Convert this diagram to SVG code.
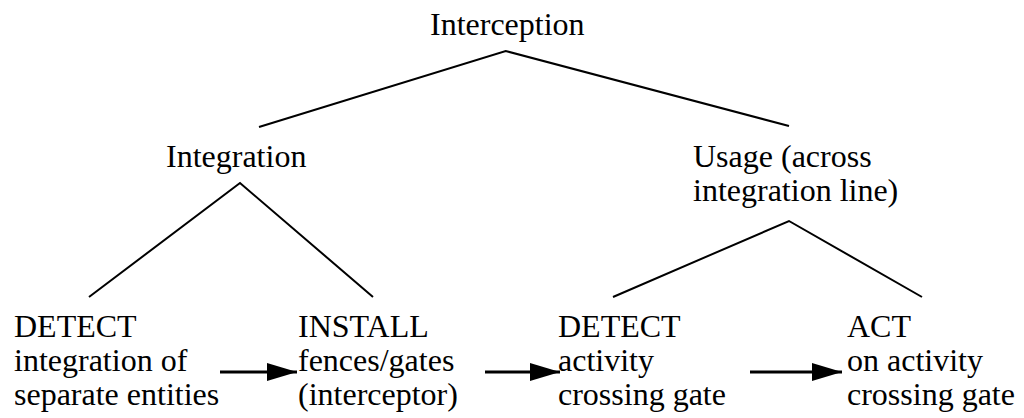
<svg xmlns="http://www.w3.org/2000/svg" width="1024" height="418" viewBox="0 0 1024 418">
  <style>
    .edge { stroke: #000; stroke-width: 2; fill: none; }
    .flow { stroke: #000; stroke-width: 3; fill: none; }
  </style>
  <defs>
    <marker id="head" markerUnits="userSpaceOnUse" markerWidth="30" markerHeight="20" refX="30" refY="9" orient="auto">
      <path d="M0,0 L30,9 L0,18 Z" fill="#000"/>
    </marker>
  </defs>
  <rect width="1024" height="418" fill="#fff"/>

  <!-- tree edges and flow arrows -->
  <g id="connectors">
    <polyline class="edge" points="259,127 505.7,51 789,126"/>
    <polyline class="edge" points="89,297 240,183 373,297"/>
    <polyline class="edge" points="613,297 789,221 922,297"/>
    <line class="flow" x1="220" y1="372" x2="297" y2="372" marker-end="url(#head)"/>
    <line class="flow" x1="485" y1="372" x2="560" y2="372" marker-end="url(#head)"/>
    <line class="flow" x1="750" y1="372" x2="842" y2="372" marker-end="url(#head)"/>
  </g>

  <g font-family="'Liberation Serif', 'Times New Roman', Times, 'DejaVu Serif', serif" font-size="32" fill="#000">
    <g id="interception">
      <text x="430" y="35">Interception</text>
    </g>
    <g id="integration">
      <text x="166" y="167">Integration</text>
    </g>
    <g id="usage">
      <text x="693" y="167">Usage (across</text>
      <text x="693" y="201">integration line)</text>
    </g>
    <g id="detect-integration">
      <text x="14" y="337">DETECT</text>
      <text x="14" y="371">integration of</text>
      <text x="14" y="405">separate entities</text>
    </g>
    <g id="install">
      <text x="298" y="337">INSTALL</text>
      <text x="298" y="371">fences/gates</text>
      <text x="298" y="405">(interceptor)</text>
    </g>
    <g id="detect-activity">
      <text x="558" y="337">DETECT</text>
      <text x="558" y="371">activity</text>
      <text x="558" y="405">crossing gate</text>
    </g>
    <g id="act">
      <text x="847" y="337">ACT</text>
      <text x="847" y="371">on activity</text>
      <text x="847" y="405">crossing gate</text>
    </g>
  </g>
</svg>
